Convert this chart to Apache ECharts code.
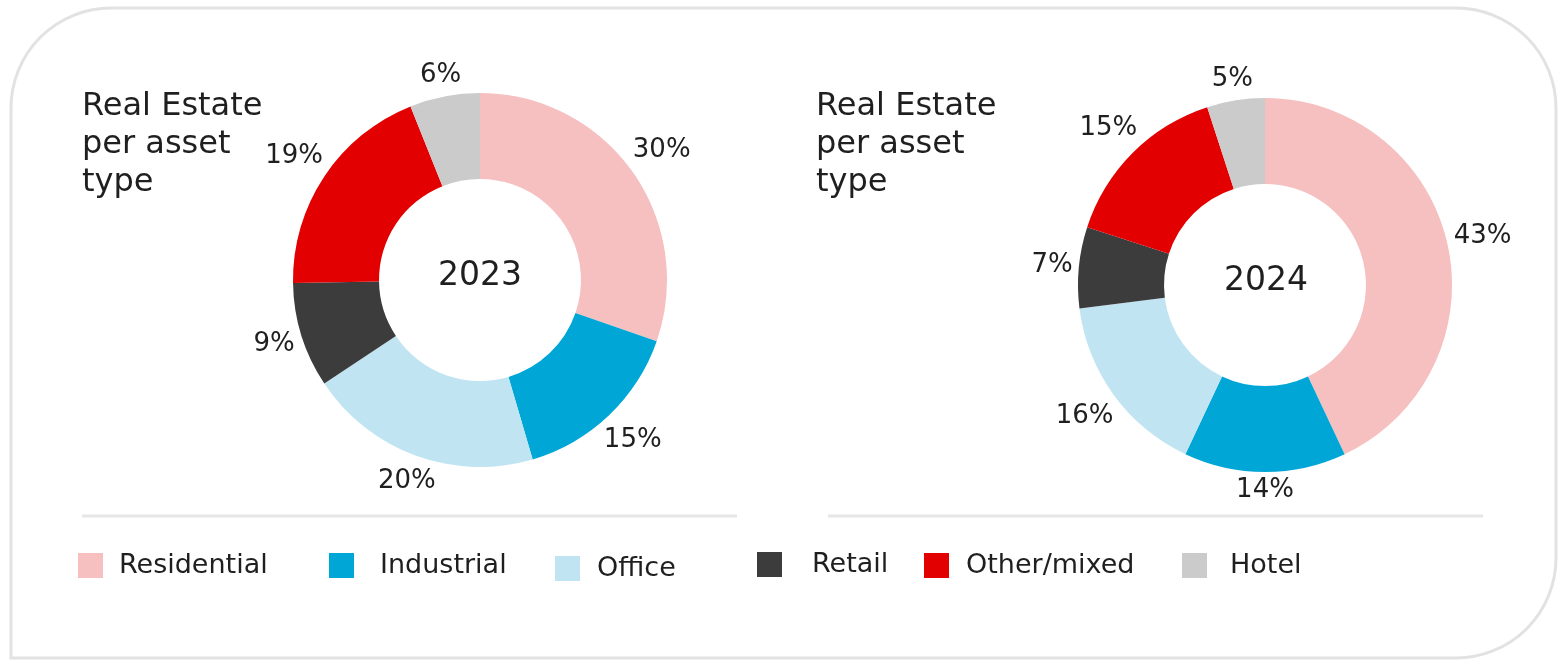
<!DOCTYPE html>
<html>
<head>
<meta charset="utf-8">
<title>Real Estate per asset type</title>
<script src="https://cdn.jsdelivr.net/npm/echarts@6/dist/echarts.min.js"></script>
<style>
  html, body { margin: 0; padding: 0; background: #fff; }
  #chart { width: 1560px; height: 660px; }
</style>
</head>
<body>
<div id="chart"></div>
<script>
// data
var categories = ['Residential', 'Industrial', 'Office', 'Retail', 'Other/mixed', 'Hotel'];
var colors = ['#f6bfc0', '#00a7d6', '#c1e4f3', '#3c3c3c', '#e30000', '#cbcbcb'];
var share2023 = [30, 15, 20, 9, 19, 6];
var share2024 = [43, 14, 16, 7, 15, 5];
var years = ['2023', '2024'];
var chartTitle = 'Real Estate\nper asset\ntype';

var font = '"DejaVu Sans", "Noto Sans", sans-serif';
var textColor = '#1f1f1f';

var centers = [[480, 280], [1265, 285]];
var outerR = 187;
var labelGap = 5; // free space between ring and label box

function toData(values) {
    return values.map(function (v, i) {
        return { name: categories[i], value: v, itemStyle: { color: colors[i] } };
    });
}

// put every % label just outside the ring, on the line through the middle of its slice
function labelAt(values, center) {
    var total = values.reduce(function (a, b) { return a + b; }, 0);
    return function (params) {
        var before = 0;
        for (var i = 0; i < params.dataIndex; i++) before += values[i];
        var a = (before + values[params.dataIndex] / 2) / total * Math.PI * 2;
        var sx = Math.sin(a), cy = Math.cos(a);
        var r = params.labelRect;
        var d = outerR + labelGap + Math.abs(sx) * r.width / 2 + Math.abs(cy) * r.height / 2;
        return {
            x: center[0] + d * sx,
            y: center[1] - d * cy,
            align: 'center',
            verticalAlign: 'middle'
        };
    };
}

function pie(center, values) {
    return {
        type: 'pie',
        center: center,
        radius: [101, outerR],
        startAngle: 90,
        clockwise: true,
        silent: true,
        label: {
            show: true,
            position: 'inside',
            formatter: '{c}%',
            color: textColor,
            fontFamily: font,
            fontSize: 26
        },
        labelLine: { show: false },
        labelLayout: labelAt(values, center),
        data: toData(values)
    };
}

// legend positions (square left edge, extra gap before text)
var legendPos = [
    { left: 78, top: 552, pad: 11 },
    { left: 329, top: 552, pad: 21 },
    { left: 555, top: 555, pad: 12 },
    { left: 757, top: 551, pad: 25 },
    { left: 924, top: 552, pad: 12 },
    { left: 1182, top: 552, pad: 18 }
];

var legends = categories.map(function (name, i) {
    var p = legendPos[i];
    return {
        data: [name],
        left: p.left,
        top: p.top,
        padding: 0,
        icon: 'rect',
        itemWidth: 25,
        itemHeight: 25,
        selectedMode: false,
        textStyle: {
            color: textColor,
            fontFamily: font,
            fontSize: 27,
            padding: [name === 'Hotel' ? 6 : 0, 0, 0, p.pad]
        }
    };
});

var myChart = echarts.init(document.getElementById('chart'));

var option = {
    backgroundColor: '#fff',
    animation: false,
    legend: legends,
    graphic: [
        {
            type: 'rect',
            shape: { x: 11, y: 8, width: 1545, height: 650, r: [100, 100, 100, 0] },
            style: { fill: 'none', stroke: '#e2e2e2', lineWidth: 3 },
            silent: true
        },
        {
            type: 'line',
            shape: { x1: 82, y1: 516, x2: 737, y2: 516 },
            style: { stroke: '#e6e6e6', lineWidth: 3 }
        },
        {
            type: 'line',
            shape: { x1: 828, y1: 516, x2: 1483, y2: 516 },
            style: { stroke: '#e6e6e6', lineWidth: 3 }
        },
        {
            type: 'text', left: 82, top: 88,
            style: { text: chartTitle, fill: textColor, font: '32px ' + font, lineHeight: 38 }
        },
        {
            type: 'text', left: 816, top: 88,
            style: { text: chartTitle, fill: textColor, font: '32px ' + font, lineHeight: 38 }
        },
        {
            type: 'text', x: centers[0][0], y: 276,
            style: { text: years[0], fill: textColor, font: '33px ' + font, align: 'center', verticalAlign: 'middle' }
        },
        {
            type: 'text', x: centers[1][0] + 1, y: 281,
            style: { text: years[1], fill: textColor, font: '33px ' + font, align: 'center', verticalAlign: 'middle' }
        }
    ],
    series: [
        pie(centers[0], share2023),
        pie(centers[1], share2024)
    ]
};

myChart.setOption(option);

window.addEventListener('resize', function () {
    myChart.resize();
});
</script>
</body>
</html>
